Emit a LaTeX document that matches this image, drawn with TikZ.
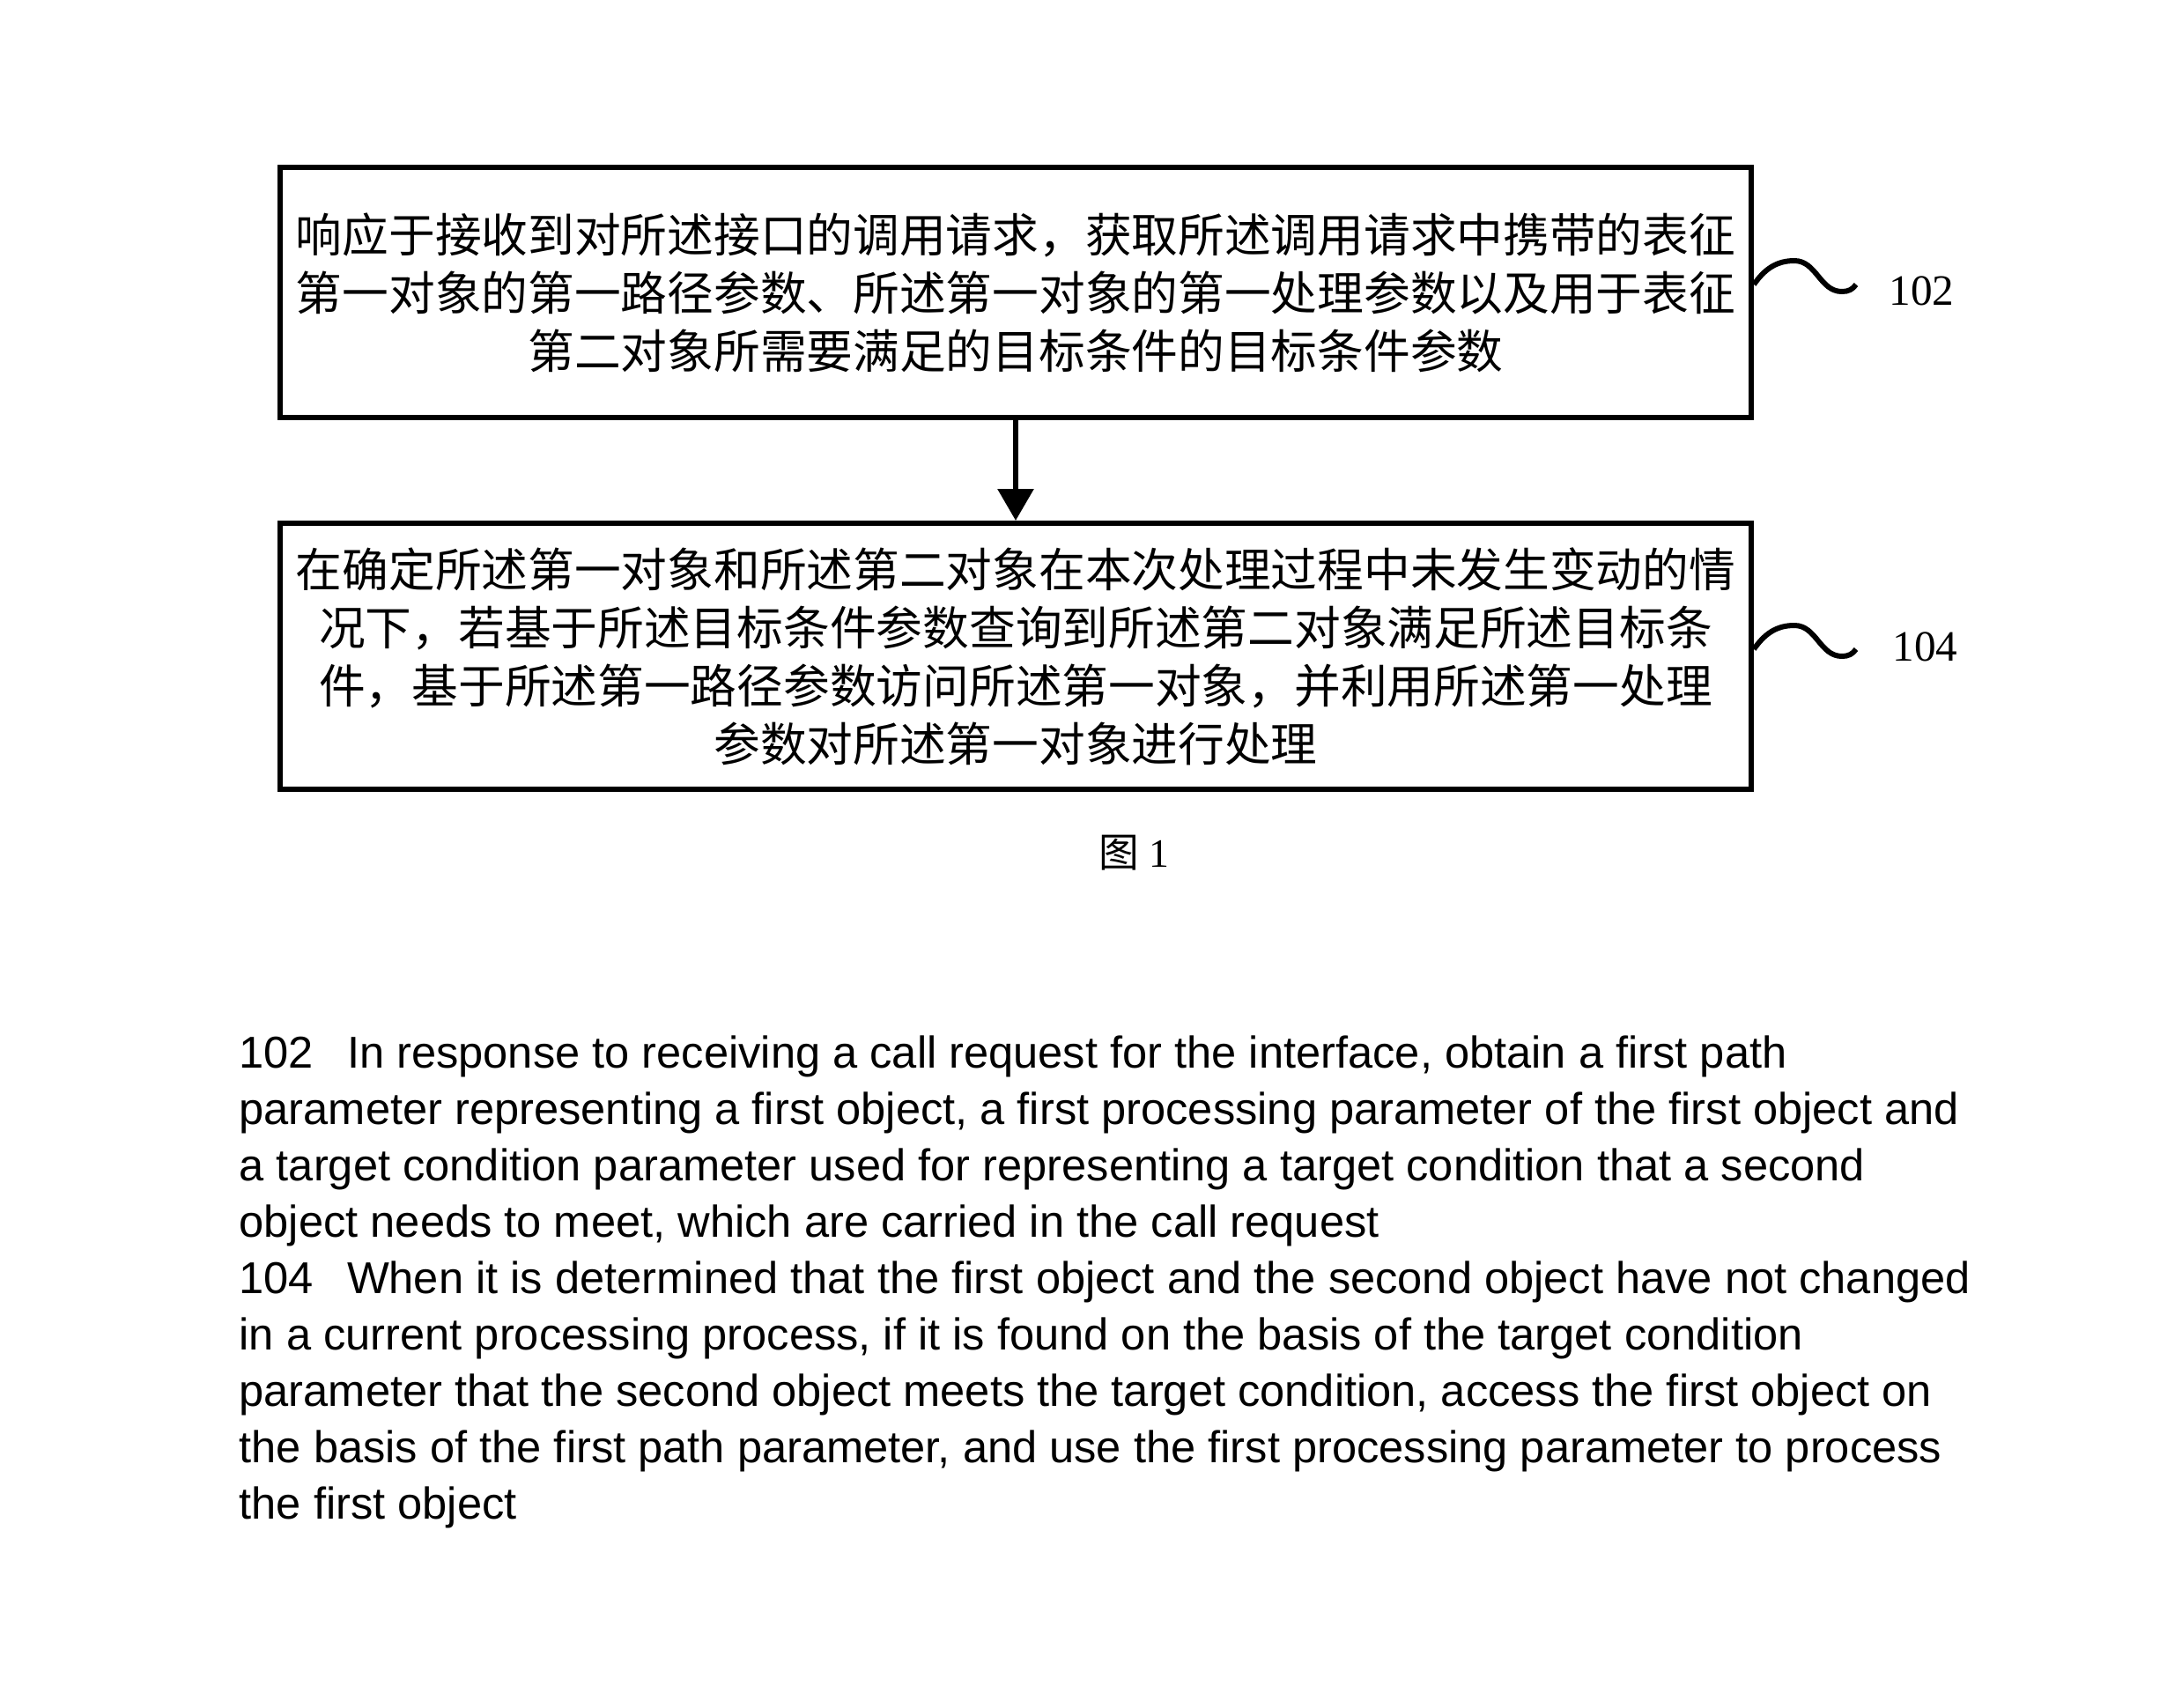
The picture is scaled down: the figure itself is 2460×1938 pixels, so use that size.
\documentclass[tikz,border=0pt]{standalone}
\usepackage{fontspec}
\setmainfont{Liberation Serif}
\newfontfamily\cjk{Noto Sans CJK SC}
\newfontfamily\engfont{Liberation Sans}
\usetikzlibrary{arrows.meta,positioning}
\tikzset{
  >={Triangle[width=4mm,length=3.6mm]},
  stepbox/.style={draw,line width=0.6mm,minimum width=167mm,align=center,
    font=\cjk\fontsize{15pt}{18.8pt}\selectfont,inner sep=0pt},
  flow/.style={->,line width=0.6mm},
  wave/.style={line width=0.6mm},
  tag/.style={font=\fontsize{14pt}{16pt}\selectfont,anchor=west,inner sep=0pt},
  note/.style={font=\engfont\fontsize{14.4pt}{18.2pt}\selectfont,align=left,
    anchor=north west,inner sep=0pt},
}
\begin{document}
\begin{tikzpicture}[x=0.1mm,y=-0.1mm]
  \useasboundingbox (0,0) rectangle (2460,1938);
  % the two steps
  \node[stepbox,minimum height=28.4mm] (s102) at (1153,332)
    {响应于接收到对所述接口的调用请求，获取所述调用请求中携带的表征\\
     第一对象的第一路径参数、所述第一对象的第一处理参数以及用于表征\\
     第二对象所需要满足的目标条件的目标条件参数};
  \node[stepbox,minimum height=30.2mm] (s104) at (1153,745)
    {在确定所述第一对象和所述第二对象在本次处理过程中未发生变动的情\\
     况下，若基于所述目标条件参数查询到所述第二对象满足所述目标条\\
     件，基于所述第一路径参数访问所述第一对象，并利用所述第一处理\\
     参数对所述第一对象进行处理};
  \draw[flow] (s102) -- (s104);
  % reference numerals
  \node[tag] (t102) at (2144,330) {102};
  \node[tag] (t104) at (2148,734) {104};
  \draw[wave] ([yshift=0.9mm]s102.east) to[out=55,in=180] ++(46,-27)
    to[out=0,in=180] ++(54,35) to[out=0,in=235] ++(16,-8);
  \draw[wave] ([yshift=0.8mm]s104.east) to[out=55,in=180] ++(46,-27)
    to[out=0,in=180] ++(54,35) to[out=0,in=235] ++(16,-8);
  \node[font=\fontsize{13pt}{15pt}\selectfont] (fig) at (1287,968) {{\cjk 图}\ 1};
  % translation
  \node[note] (desc) at (271,1175)
    {102\hspace{3.8mm}In response to receiving a call request for the interface, obtain a first path\\
     parameter representing a first object, a first processing parameter of the first object and\\
     a target condition parameter used for representing a target condition that a second\\
     object needs to meet, which are carried in the call request\\
     104\hspace{3.8mm}When it is determined that the first object and the second object have not changed\\
     in a current processing process, if it is found on the basis of the target condition\\
     parameter that the second object meets the target condition, access the first object on\\
     the basis of the first path parameter, and use the first processing parameter to process\\
     the first object};
\end{tikzpicture}
\end{document}
